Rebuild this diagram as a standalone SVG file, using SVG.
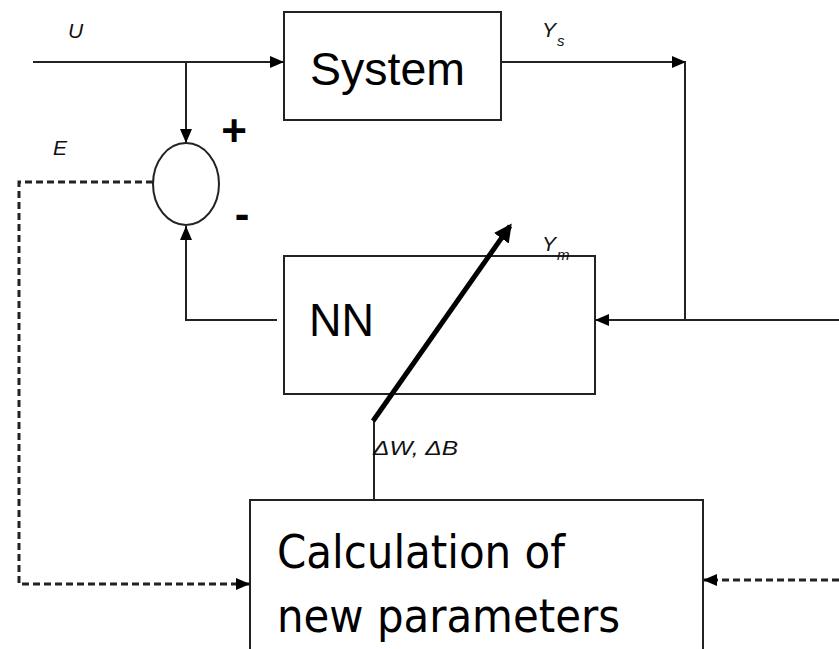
<svg xmlns="http://www.w3.org/2000/svg" width="839" height="649" viewBox="0 0 839 649">
<defs>
<style>
.box{fill:#fff;stroke:#222;stroke-width:2}
.ln{fill:none;stroke:#222;stroke-width:2}
.dash{fill:none;stroke:#222;stroke-width:3;stroke-dasharray:7 4}
.big{font-family:"Liberation Sans",Arial,sans-serif;font-size:47px;fill:#000}
.calc{font-family:"DejaVu Sans Condensed","DejaVu Sans",Tahoma,sans-serif;font-size:46px;fill:#000}
.lbl{font-family:"Liberation Sans",Arial,sans-serif;font-style:italic;font-size:21px;fill:#111}
.sub{font-family:"Liberation Sans",Arial,sans-serif;font-style:italic;font-size:15px;fill:#111}
</style>
<marker id="ah" viewBox="0 0 14 12" refX="14" refY="6" markerWidth="14" markerHeight="12" markerUnits="userSpaceOnUse" orient="auto">
<path d="M0,0 L14,6 L0,12 Z" fill="#000"/>
</marker>
<marker id="ahb" viewBox="0 0 12 12" refX="10" refY="6" markerWidth="18" markerHeight="18" markerUnits="userSpaceOnUse" orient="auto">
<path d="M0,0 L12,6 L0,12 Z" fill="#000"/>
</marker>
</defs>
<rect width="839" height="649" fill="#fff"/>

<g id="system">
<rect class="box" x="284" y="12" width="217" height="108"/>
<text class="big" x="310" y="85" textLength="155" lengthAdjust="spacingAndGlyphs">System</text>
</g>

<g id="sum">
<ellipse class="box" cx="186" cy="184" rx="33" ry="41"/>
<text x="234" y="146" text-anchor="middle" font-family="Liberation Sans,Arial,sans-serif" font-size="44" font-weight="bold">+</text>
<text x="242" y="229" text-anchor="middle" font-family="Liberation Sans,Arial,sans-serif" font-size="44" font-weight="bold">-</text>
</g>

<g id="nn">
<rect class="box" x="284" y="256" width="311" height="138"/>
<text class="big" x="309" y="336" textLength="65" lengthAdjust="spacingAndGlyphs">NN</text>
</g>

<g id="calc">
<rect class="box" x="250" y="500" width="453" height="170"/>
<text class="calc" x="277" y="568" textLength="288" lengthAdjust="spacingAndGlyphs">Calculation of</text>
<text class="calc" x="277" y="632" textLength="343" lengthAdjust="spacingAndGlyphs">new parameters</text>
</g>

<g id="connectors">
<line class="ln" x1="33" y1="62" x2="284" y2="62" marker-end="url(#ah)"/>
<line class="ln" x1="186" y1="62" x2="186" y2="143" marker-end="url(#ah)"/>
<line class="ln" x1="501" y1="62" x2="686" y2="62" marker-end="url(#ah)"/>
<line class="ln" x1="685" y1="62" x2="685" y2="320"/>
<line class="ln" x1="839" y1="320" x2="595" y2="320" marker-end="url(#ah)"/>
<polyline class="ln" points="277,320 186,320 186,226" marker-end="url(#ah)"/>
<polyline class="dash" points="153,182 19,182 19,584 250,584" marker-end="url(#ah)"/>
<line class="dash" x1="839" y1="580" x2="703" y2="580" marker-end="url(#ah)"/>
<line class="ln" x1="374" y1="418" x2="374" y2="500"/>
<line x1="373" y1="421" x2="510" y2="226" stroke="#000" stroke-width="5" marker-end="url(#ahb)"/>
</g>

<g id="labels">
<text class="lbl" x="68" y="38">U</text>
<text class="lbl" x="53" y="155">E</text>
<text class="lbl" x="542" y="37">Y</text><text class="sub" x="557" y="46">s</text>
<text class="lbl" x="542" y="251">Y</text><text class="sub" x="557" y="260">m</text>
<text class="lbl" x="373" y="455" textLength="85" lengthAdjust="spacingAndGlyphs">ΔW, ΔB</text>
</g>
</svg>
